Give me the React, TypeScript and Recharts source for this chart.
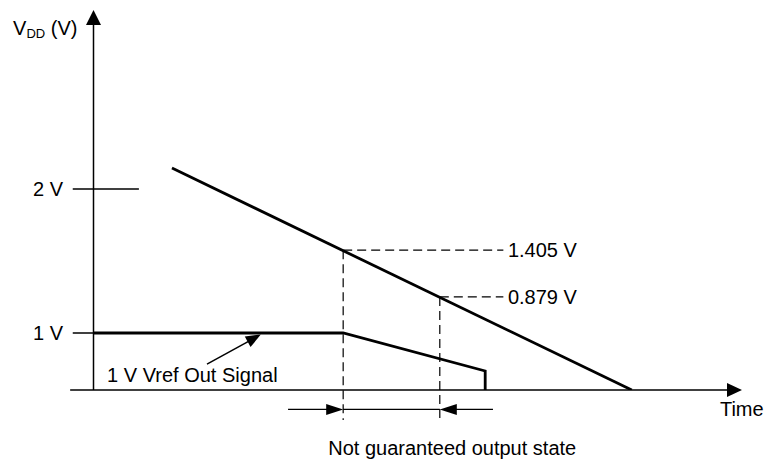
import React from 'react';
import { ComposedChart, Line, XAxis, YAxis, ReferenceLine, ReferenceDot } from 'recharts';

// Schematic units: time 0..100 along the x-axis, level 0..100 up the y-axis
const vddTime = [12.1, 83.0];
const vddLevel = [58.4, 0];
const vrefTime = [0, 38.5, 60.4, 60.4];
const vrefLevel = [15, 15, 5, 0];

const yTickLabels = ['2 V', '1 V'];
const yTickLevels = [52.9, 15];
const yTickEnds = [7.0, 0];

const markerLabels = ['1.405 V', '0.879 V'];
const markerTimes = [38.5, 53.4];
const markerLevels = [36.8, 24.5];
const markerLabelTime = 63.9;
const markerDashEnd = 63.2;

const windowLabel = 'Not guaranteed output state';
const vrefLabel = '1 V Vref Out Signal';
const xAxisLabel = 'Time';

const vddData = vddTime.map((t, i) => ({ t, v: vddLevel[i] }));
const vrefData = vrefTime.map((t, i) => ({ t, v: vrefLevel[i] }));

const FONT = '"Liberation Sans", Arial, sans-serif';
const INK = '#000';

function arrowShape(headLen: number, halfW: number, sw: number) {
  return (p: any) => {
    const { x1, y1, x2, y2 } = p;
    const dx = x2 - x1;
    const dy = y2 - y1;
    const len = Math.hypot(dx, dy) || 1;
    const ux = dx / len;
    const uy = dy / len;
    const bx = x2 - ux * headLen;
    const by = y2 - uy * headLen;
    const px = -uy * halfW;
    const py = ux * halfW;
    return (
      <g>
        <line x1={x1} y1={y1} x2={bx + ux * 2} y2={by + uy * 2} stroke={INK} strokeWidth={sw} />
        <polygon points={`${x2},${y2} ${bx + px},${by + py} ${bx - px},${by - py}`} fill={INK} />
      </g>
    );
  };
}

function textShape(text: string, anchor: 'start' | 'end' | 'middle', size = 20) {
  return (p: any) => (
    <text
      x={p.cx}
      y={p.cy}
      textAnchor={anchor}
      dominantBaseline="central"
      fontFamily={FONT}
      fontSize={size}
      fill={INK}
    >
      {text}
    </text>
  );
}

const yLabelShape = (p: any) => (
  <text x={p.cx} y={p.cy} dominantBaseline="central" fontFamily={FONT} fontSize={20} fill={INK}>
    <tspan>V</tspan>
    <tspan fontSize={13} dy={5}>DD</tspan>
    <tspan dy={-5}> (V)</tspan>
  </text>
);

export default function App() {
  return (
    <div style={{ position: 'absolute', left: 0, top: 0, background: '#fff' }}>
      <ComposedChart width={772} height={463} margin={{ top: 10, right: 30, bottom: 73, left: 93.5 }}>
        <XAxis type="number" dataKey="t" domain={[0, 100]} hide allowDataOverflow />
        <YAxis type="number" dataKey="v" domain={[0, 100]} hide allowDataOverflow />

        {/* axes with arrowheads */}
        <ReferenceLine
          segment={[{ x: 0, y: 0 }, { x: 0, y: 100 }]}
          ifOverflow="visible"
          shape={arrowShape(15, 7.5, 1.5)}
        />
        <ReferenceLine
          segment={[{ x: -3.6, y: 0 }, { x: 100, y: 0 }]}
          ifOverflow="visible"
          shape={arrowShape(15, 7, 1.5)}
        />

        {/* y tick marks */}
        {yTickLevels.map((lv, i) => (
          <ReferenceLine
            key={`tick-${i}`}
            segment={[{ x: -3.2, y: lv }, { x: yTickEnds[i], y: lv }]}
            ifOverflow="visible"
            stroke={INK}
            strokeWidth={1.5}
          />
        ))}

        {/* dashed markers */}
        {markerTimes.map((t, i) => (
          <ReferenceLine
            key={`mh-${i}`}
            segment={[{ x: t, y: markerLevels[i] }, { x: markerDashEnd, y: markerLevels[i] }]}
            ifOverflow="visible"
            stroke={INK}
            strokeWidth={1.2}
            strokeDasharray="9 5"
          />
        ))}
        {markerTimes.map((t, i) => (
          <ReferenceLine
            key={`mv-${i}`}
            segment={[{ x: t, y: markerLevels[i] }, { x: t, y: -7.9 }]}
            ifOverflow="visible"
            stroke={INK}
            strokeWidth={1.2}
            strokeDasharray="9 5"
          />
        ))}

        {/* not guaranteed window dimension */}
        <ReferenceLine
          segment={[{ x: markerTimes[0], y: -5.1 }, { x: markerTimes[1], y: -5.1 }]}
          ifOverflow="visible"
          stroke={INK}
          strokeWidth={1.2}
        />
        <ReferenceLine
          segment={[{ x: 30, y: -5.1 }, { x: markerTimes[0], y: -5.1 }]}
          ifOverflow="visible"
          shape={arrowShape(17, 5.5, 1.2)}
        />
        <ReferenceLine
          segment={[{ x: 61.6, y: -5.1 }, { x: markerTimes[1], y: -5.1 }]}
          ifOverflow="visible"
          shape={arrowShape(17, 5.5, 1.2)}
        />

        {/* series */}
        <Line
          data={vddData}
          dataKey="v"
          stroke={INK}
          strokeWidth={2.8}
          dot={false}
          activeDot={false}
          isAnimationActive={false}
          type="linear"
        />
        <Line
          data={vrefData}
          dataKey="v"
          stroke={INK}
          strokeWidth={2.8}
          dot={false}
          activeDot={false}
          isAnimationActive={false}
          type="linear"
        />

        {/* label arrow */}
        <ReferenceLine
          segment={[{ x: 17.5, y: 6.8 }, { x: 25.8, y: 14.6 }]}
          ifOverflow="visible"
          shape={arrowShape(15, 6, 1.5)}
        />

        {/* texts */}
        <ReferenceDot x={-12.4} y={95.3} r={0} ifOverflow="visible" shape={yLabelShape} />
        {yTickLabels.map((lab, i) => (
          <ReferenceDot key={`yl-${i}`} x={-4.7} y={yTickLevels[i]} r={0} ifOverflow="visible" shape={textShape(lab, 'end')} />
        ))}
        {markerLabels.map((lab, i) => (
          <ReferenceDot key={`ml-${i}`} x={markerLabelTime} y={markerLevels[i]} r={0} ifOverflow="visible" shape={textShape(lab, 'start')} />
        ))}
        <ReferenceDot x={2.1} y={4.0} r={0} ifOverflow="visible" shape={textShape(vrefLabel, 'start')} />
        <ReferenceDot x={96.6} y={-5.0} r={0} ifOverflow="visible" shape={textShape(xAxisLabel, 'start')} />
        <ReferenceDot x={36.2} y={-15.3} r={0} ifOverflow="visible" shape={textShape(windowLabel, 'start')} />
      </ComposedChart>
    </div>
  );
}
